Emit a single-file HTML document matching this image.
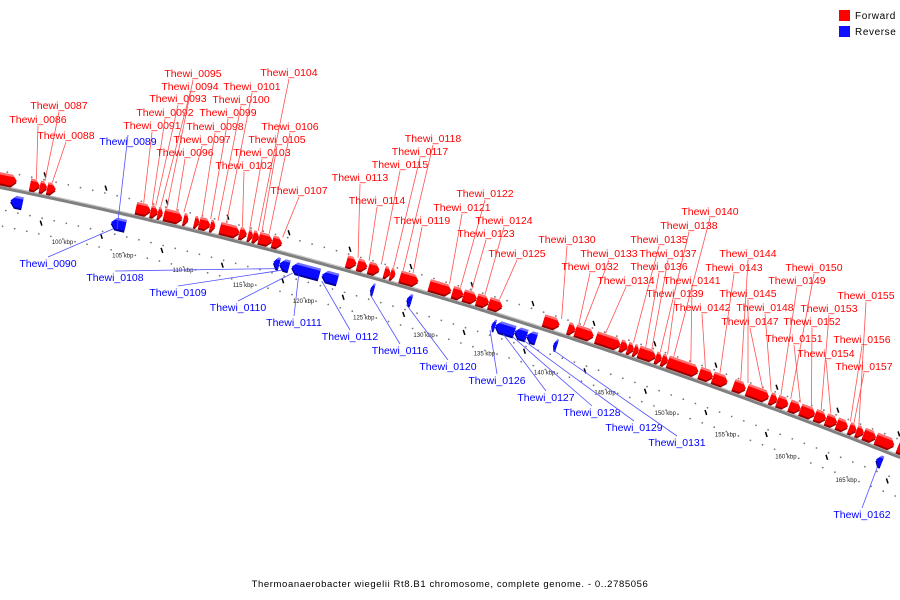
<!DOCTYPE html>
<html><head><meta charset="utf-8"><style>
body{margin:0;background:#fff;width:900px;height:600px;overflow:hidden}
svg{display:block}
text{font-family:"Liberation Sans",sans-serif}
</style></head><body>
<svg id="chart" width="900" height="600" viewBox="0 0 900 600" xmlns="http://www.w3.org/2000/svg">
<g>
<rect x="839" y="10" width="11" height="11" fill="#ff0000"/>
<text x="855" y="19" font-size="10" letter-spacing="0.6">Forward</text>
<rect x="839" y="26" width="11" height="11" fill="#1010ff"/>
<text x="855" y="35" font-size="10" letter-spacing="0.6">Reverse</text>
</g>
<text x="450" y="587" font-size="9.5" text-anchor="middle" letter-spacing="0.6">Thermoanaerobacter wiegelii Rt8.B1 chromosome, complete genome. - 0..2785056</text>
<g id="layer"></g>
</svg>
<script>
// forward genes [start kbp, end kbp]
var fwdStart=[92.5,96.5,97.3,97.9,105.2,106.4,107.0,107.5,109.1,110.0,110.4,111.3,112.1,113.7,114.4,114.8,115.3,116.4,122.5,123.4,124.3,125.6,126.1,126.9,129.3,131.2,132.1,133.2,134.2,138.7,140.7,141.3,143.0,145.0,145.6,146.1,146.5,147.9,148.4,148.9,151.5,152.6,154.3,155.4,157.3,157.9,158.9,159.8,161.0,161.9,162.8,163.8,164.4,165.0,166.0,167.8];
var fwdEnd=[95.4,97.3,97.9,98.6,106.4,107.0,107.4,109.0,109.5,110.4,111.3,111.7,113.7,114.3,114.8,115.3,116.4,117.2,123.3,124.2,125.2,126.1,126.5,128.4,131.1,132.1,133.2,134.2,135.3,140.0,141.3,142.8,145.0,145.6,146.1,146.5,147.9,148.4,148.9,151.4,152.6,153.8,155.3,157.2,157.9,158.8,159.8,161.0,161.9,162.8,163.7,164.4,165.0,166.0,167.5,169.5];
// reverse genes
var revStart=[95.2,103.5,116.9,117.4,118.4,120.9,124.9,127.9,134.9,135.2,136.8,137.8,140.0,166.6];
var revEnd=[96.2,104.7,117.4,118.2,120.7,122.2,125.2,128.3,135.2,136.8,137.8,138.6,140.3,167.1];
// forward labels and target kbp
var fwdNames=["Thewi_0086","Thewi_0087","Thewi_0088","Thewi_0091","Thewi_0092","Thewi_0093","Thewi_0094","Thewi_0095","Thewi_0096","Thewi_0097","Thewi_0098","Thewi_0099","Thewi_0100","Thewi_0101","Thewi_0102","Thewi_0103","Thewi_0104","Thewi_0105","Thewi_0106","Thewi_0107","Thewi_0113","Thewi_0114","Thewi_0115","Thewi_0117","Thewi_0118","Thewi_0119","Thewi_0121","Thewi_0122","Thewi_0123","Thewi_0124","Thewi_0125","Thewi_0130","Thewi_0132","Thewi_0133","Thewi_0134","Thewi_0135","Thewi_0136","Thewi_0137","Thewi_0138","Thewi_0139","Thewi_0140","Thewi_0141","Thewi_0142","Thewi_0143","Thewi_0144","Thewi_0145","Thewi_0147","Thewi_0148","Thewi_0149","Thewi_0150","Thewi_0151","Thewi_0152","Thewi_0153","Thewi_0154","Thewi_0155","Thewi_0156","Thewi_0157"];
var fwdTarget=[96.9,97.6,98.2,105.7,106.4,106.7,107.1,107.6,108.4,109.0,110.5,111.2,111.8,112.5,113.8,114.4,115.1,115.4,116.0,117.1,123.3,124.2,125.2,126.2,127.0,127.8,130.8,131.7,132.6,133.7,134.9,140.0,141.4,141.8,143.6,145.9,146.9,147.4,148.1,148.7,149.2,150.6,151.8,153.0,154.7,155.3,156.5,157.2,158.0,158.8,159.6,160.5,161.3,162.1,164.4,163.7,164.0];
var fwdLabelX=[38,59,66,152,165,178,190,193,185,202,215,228,241,252,244,262,289,277,290,299,360,377,400,420,433,422,462,485,486,504,517,567,590,609,626,659,659,668,689,675,710,692,702,734,748,748,750,765,797,814,794,812,829,826,866,862,864];
var fwdLabelY=[119,105,135,125,112,98,86,73,152,139,126,112,99,86,165,152,72,139,126,190,177,200,164,151,138,220,207,193,233,220,253,239,266,253,280,239,266,253,225,293,211,280,307,267,253,293,321,307,280,267,338,321,308,353,295,339,366];
var revNames=["Thewi_0089","Thewi_0090","Thewi_0108","Thewi_0109","Thewi_0110","Thewi_0111","Thewi_0112","Thewi_0116","Thewi_0120","Thewi_0126","Thewi_0127","Thewi_0128","Thewi_0129","Thewi_0131","Thewi_0162"];
var revTarget=[104.1,103.8,117.2,117.7,118.6,119.1,121.0,125.0,128.0,134.9,136.0,136.8,137.7,140.1,166.9];
var revLabelX=[128,48,115,178,238,294,350,400,448,497,546,592,634,677,862];
var revLabelY=[141,263,277,292,307,322,336,350,366,380,397,412,427,442,514];
var tickKbp=[100,105,110,115,120,125,130,135,140,145,150,155,160,165];

var NS="http://www.w3.org/2000/svg";
var layer=document.getElementById('layer');
function X(k){return 71+(k-100)*12.15;}
function Y(x){return 187+0.2022*x+0.0001086*x*x;}
function slope(x){return 0.2022+2*0.0001086*x;}
function pt(k,off){var x=X(k),s=slope(x),L=Math.sqrt(1+s*s);var nx=-s/L,ny=1/L;return [x+nx*off,Y(x)+ny*off];}
function mk(tag,attrs,parent){var e=document.createElementNS(NS,tag);for(var a in attrs)e.setAttribute(a,attrs[a]);(parent||layer).appendChild(e);return e;}

var d="";for(var x=-10;x<=910;x+=5){d+=(x==-10?"M":"L")+x+","+Y(x).toFixed(1);}
var bb=mk('path',{d:d,stroke:'#808080','stroke-width':4,fill:'none'});


var bb2=mk('path',{d:d,stroke:'#c8c8c8','stroke-width':1,fill:'none',transform:'translate(0,-1.5)'});



for(var k=92;k<=172;k+=1){
  var offs=[-16,22,38];
  for(var j=0;j<offs.length;j++){
    var p=pt(k+(j==0?0.5:0),offs[j]);
    var c=mk('circle',{cx:p[0].toFixed(1),cy:p[1].toFixed(1),r:0.9,fill:'#777'});
    
    
  }
  if(k%5==2){
    var a=pt(k+0.5,-21),t=mk('line',{x1:a[0]-0.8,y1:a[1]-2.5,x2:a[0]+0.8,y2:a[1]+2.5,stroke:'#000','stroke-width':1.5});
    
    
  }
  if(k%5==3){
    var b=pt(k,27),t2=mk('line',{x1:b[0]-0.8,y1:b[1]-2.5,x2:b[0]+0.8,y2:b[1]+2.5,stroke:'#000','stroke-width':1.5});
    
    
  }
}
for(var i=0;i<tickKbp.length;i++){
  var p=pt(tickKbp[i],40);
  var tl=mk('text',{x:p[0].toFixed(1),y:(p[1]+3).toFixed(1),'font-size':6,'text-anchor':'middle',fill:'#222','font-family':'Liberation Serif, serif'});
  tl.textContent=tickKbp[i]+" kbp";
  
  
}

function gene(a,b,fwd,name){
  var off=fwd?-9:11,h=11;
  var p0=pt(a,off),p1=pt(b,off);
  var dx=p1[0]-p0[0],dy=p1[1]-p0[1],len=Math.sqrt(dx*dx+dy*dy),ang=Math.atan2(dy,dx)*180/Math.PI;
  var g=mk('g',{transform:'translate('+p0[0].toFixed(1)+','+p0[1].toFixed(1)+') rotate('+ang.toFixed(2)+')'});
  
  
  var hd=Math.min(5,len*0.6),hh=h/2;
  var main;
  if(fwd){
    main="0,"+(-hh)+" "+(len-hd)+","+(-hh)+" "+len+",0 "+(len-hd)+","+hh+" 0,"+hh;
  }else{
    main=len+","+(-hh)+" "+hd+","+(-hh)+" 0,0 "+hd+","+hh+" "+len+","+hh;
  }
  var col=fwd?'#ff0000':'#0a0aff',dark=fwd?'#990000':'#000099',lt=fwd?'#ff7070':'#7070ff';
  mk('polygon',{points:main,fill:dark,transform:'translate(0,2)'},g);
  mk('polygon',{points:main,fill:col},g);
  var tp=fwd?("0,"+(-hh)+" "+(len-hd)+","+(-hh)+" "+(len-hd*0.6)+","+(-hh*0.6)+" 0,"+(-hh*0.6)):(len+","+(-hh)+" "+hd+","+(-hh)+" "+(hd*0.6)+","+(-hh*0.6)+" "+len+","+(-hh*0.6));
  mk('polygon',{points:tp,fill:lt},g);
}
for(var i=0;i<fwdStart.length;i++)gene(fwdStart[i],fwdEnd[i],true,'forward-gene');
for(var i=0;i<revStart.length;i++)gene(revStart[i],revEnd[i],false,'reverse-gene');

function label(name,lx,ly,tk,fwd){
  var col=fwd?'#ff0000':'#0000ff',lc=fwd?'#ff5050':'#5050ff';
  var tp=fwd?pt(tk,-15):pt(tk,17);
  var sy=fwd?ly+3:ly-10;
  var ln=mk('line',{x1:lx,y1:sy,x2:tp[0].toFixed(1),y2:tp[1].toFixed(1),stroke:lc,'stroke-width':0.8});
  
  
  var t=mk('text',{x:lx,y:ly,'font-size':10.5,'text-anchor':'middle',fill:col});
  t.textContent=name;
  
  
}
for(var i=0;i<fwdNames.length;i++)label(fwdNames[i],fwdLabelX[i],fwdLabelY[i]+4,fwdTarget[i],true);
for(var i=0;i<revNames.length;i++)label(revNames[i],revLabelX[i],revLabelY[i]+4,revTarget[i],false);
</script>
</body></html>
